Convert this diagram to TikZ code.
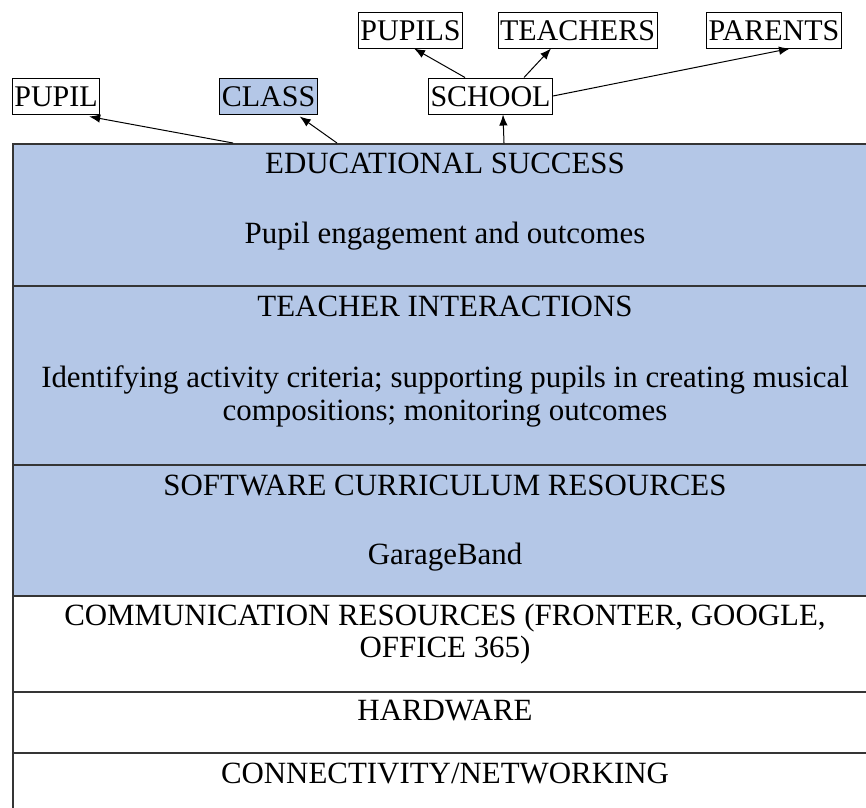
\documentclass[tikz,border=0pt]{standalone}
\usepackage{fontspec}
\setmainfont{Liberation Serif}
\usetikzlibrary{arrows.meta}
\definecolor{layerblue}{HTML}{B4C7E7}
\definecolor{rule}{HTML}{353535}
\begin{document}
\begin{tikzpicture}[x=1pt,y=-1pt,
  every node/.style={font=\fontsize{30}{33}\selectfont},
  layer/.style={draw=rule,line width=1.5pt,minimum width=866pt,anchor=north west,inner sep=0pt},
  bluelayer/.style={layer,fill=layerblue},
  txt/.style={anchor=base,inner sep=0pt,font=\fontsize{30.9}{34}\selectfont},
  tag/.style={draw=black,line width=1pt,inner xsep=2pt,inner ysep=1.5pt,text height=27pt,text depth=6pt},
  arr/.style={draw=black,line width=1pt,-{Latex[length=11pt,width=8.5pt]}}]
\useasboundingbox (0,0) rectangle (866,807);
\clip (0,0) rectangle (866,807);
\fill[white] (0,0) rectangle (866,807);
% layers
\node[bluelayer,minimum height=142pt] (r1) at (12,143) {};
\node[bluelayer,minimum height=179pt] (r2) at (12,285) {};
\node[bluelayer,minimum height=131pt] (r3) at (12,464) {};
\node[layer,minimum height=96pt] (r4) at (12,595) {};
\node[layer,minimum height=61pt] (r5) at (12,691) {};
\node[layer,minimum height=60pt] (r6) at (12,752) {};
% layer texts
\node[txt] (t1) at (445,173) {EDUCATIONAL SUCCESS};
\node[txt] (t1b) at (445,243) {Pupil engagement and outcomes};
\node[txt] (t2) at (445,316) {TEACHER INTERACTIONS};
\node[txt] (t2b) at (445,387) {Identifying activity criteria; supporting pupils in creating musical};
\node[txt] (t2c) at (445,420) {compositions; monitoring outcomes};
\node[txt] (t3) at (445,495) {SOFTWARE CURRICULUM RESOURCES};
\node[txt] (t3b) at (445,564) {GarageBand};
\node[txt] (t4) at (445,625) {COMMUNICATION RESOURCES (FRONTER, GOOGLE,};
\node[txt] (t4b) at (445,657) {OFFICE 365)};
\node[txt] (t5) at (445,720) {HARDWARE};
\node[txt] (t6) at (445,783) {CONNECTIVITY/NETWORKING};
% level labels
\node[tag] (pupil) at (56,96) {PUPIL};
\node[tag,fill=layerblue] (class) at (268.5,96) {CLASS};
\node[tag] (school) at (490.5,96) {SCHOOL};
\node[tag] (pupils) at (410.5,30) {PUPILS};
\node[tag] (teachers) at (577.5,30) {TEACHERS};
\node[tag] (parents) at (774,30) {PARENTS};
% start points on the top layer
\coordinate (s1) at ([xshift=221pt]r1.north west);
\coordinate (s2) at ([xshift=325pt]r1.north west);
\coordinate (s3) at ([xshift=492pt]r1.north west);
% connectors
\draw[arr] (s1) -- ([xshift=-11pt,yshift=-2pt]pupil.south east);
\draw[arr] (s2) -- ([xshift=-18pt,yshift=-2pt]class.south east);
\draw[arr] (s3) -- ([xshift=12.5pt]school.south);
\draw[arr] ([xshift=-25.5pt]school.north) -- ([xshift=3.5pt]pupils.south);
\draw[arr] ([xshift=33.5pt]school.north) -- ([xshift=-26.5pt]teachers.south);
\draw[arr] (school.east) -- ([xshift=16pt]parents.south);
\end{tikzpicture}
\end{document}
